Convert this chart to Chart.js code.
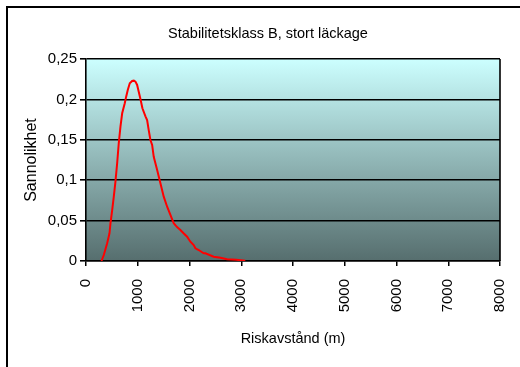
<!DOCTYPE html>
<html>
<head>
<meta charset="utf-8">
<script src="https://cdn.jsdelivr.net/npm/chart.js@4/dist/chart.umd.min.js"></script>
<style>
  html, body { margin: 0; padding: 0; background: #ffffff; }
  #wrap { width: 520px; height: 367px; position: relative; }
</style>
</head>
<body>
<div id="wrap"><canvas id="c" width="520" height="367"></canvas></div>
<script>
// Probability of the risk distance, stability class B, large leak
const chartTitle = 'Stabilitetsklass B, stort läckage';
const xTitle = 'Riskavstånd (m)';
const yTitle = 'Sannolikhet';

// Risk distance (m)
const distance = [299, 344, 409, 454, 473, 506, 537, 569, 602, 633, 666, 699, 749, 776, 807,
  846, 892, 925, 956, 988, 1019, 1052, 1090, 1149, 1181, 1212, 1245, 1278, 1309, 1375, 1438,
  1502, 1568, 1631, 1695, 1760, 1824, 1890, 1954, 2017, 2081, 2114, 2178, 2274, 2307, 2467,
  2600, 2726, 2900, 3079];
// Probability
const probability = [0, 0.0074, 0.0219, 0.0343, 0.0467, 0.0631, 0.0796, 0.0982, 0.121, 0.1457,
  0.1663, 0.1828, 0.1952, 0.2034, 0.2117, 0.22, 0.2228, 0.2232, 0.222, 0.2179, 0.2096, 0.2005,
  0.189, 0.179, 0.1745, 0.162, 0.1498, 0.1436, 0.129, 0.1127, 0.0962, 0.0796, 0.0672, 0.057,
  0.0467, 0.042, 0.0384, 0.034, 0.0301, 0.0239, 0.0198, 0.0157, 0.0136, 0.0095, 0.0095, 0.0053,
  0.004, 0.0021, 0.0015, 0.0004];

const xTickValues = [0, 1000, 2000, 3000, 4000, 5000, 6000, 7000, 8000];
const yTickValues = [0, 0.05, 0.1, 0.15, 0.2, 0.25];
const yTickLabels = ['0', '0,05', '0,1', '0,15', '0,2', '0,25'];

const FONT = "'Liberation Sans', Arial, sans-serif";

const points = distance.map((d, i) => ({ x: d, y: probability[i] }));

const framePlugin = {
  id: 'frame',
  beforeDraw(chart) {
    const { ctx, chartArea: a, width, height } = chart;
    ctx.save();
    // plot background gradient
    const g = ctx.createLinearGradient(0, a.top, 0, a.bottom);
    g.addColorStop(0, '#ccffff');
    g.addColorStop(1, '#566e6e');
    ctx.fillStyle = g;
    ctx.fillRect(a.left, a.top, a.right - a.left, a.bottom - a.top);
    // outer chart border
    ctx.strokeStyle = '#000000';
    ctx.lineWidth = 2;
    ctx.strokeRect(7, 7, width + 20, height + 20);
    // chart title
    ctx.fillStyle = '#000000';
    ctx.font = '14.5px ' + FONT;
    ctx.textAlign = 'center';
    ctx.textBaseline = 'middle';
    ctx.fillText(chartTitle, 268, 34);
    ctx.restore();
  },
  afterDraw(chart) {
    const { ctx, chartArea: a } = chart;
    ctx.save();
    ctx.strokeStyle = '#000000';
    ctx.lineWidth = 1.6;
    ctx.beginPath();
    ctx.moveTo(a.right, a.top);
    ctx.lineTo(a.right, a.bottom);
    ctx.stroke();
    ctx.restore();
  }
};

new Chart(document.getElementById('c'), {
  type: 'scatter',
  data: {
    datasets: [{
      data: points,
      showLine: true,
      borderColor: '#ff0000',
      borderWidth: 2,
      pointRadius: 0,
      tension: 0,
      fill: false
    }]
  },
  options: {
    responsive: false,
    animation: false,
    events: [],
    layout: { padding: { left: 0, right: 20, top: 59, bottom: 0 } },
    plugins: { legend: { display: false }, title: { display: false }, tooltip: { enabled: false } },
    scales: {
      x: {
        type: 'linear',
        min: 0,
        max: 8000,
        afterBuildTicks(scale) { scale.ticks = xTickValues.map(v => ({ value: v })); },
        afterFit(scale) {
          scale.height = 106;
          scale.paddingLeft = 0;
          scale.paddingRight = 0;
        },
        grid: { drawOnChartArea: false, drawTicks: true, tickLength: 5, color: '#000000', lineWidth: 1.5 },
        border: { display: true, color: '#000000', width: 1.6 },
        ticks: {
          color: '#000000',
          font: { family: FONT, size: 15 },
          minRotation: 90,
          maxRotation: 90,
          padding: 13,
          autoSkip: false,
          callback: v => String(v)
        },
        title: {
          display: true,
          text: xTitle,
          color: '#000000',
          font: { family: FONT, size: 14.5 },
          padding: { top: 0, bottom: 19 }
        }
      },
      y: {
        type: 'linear',
        min: 0,
        max: 0.25,
        afterBuildTicks(scale) { scale.ticks = yTickValues.map(v => ({ value: v })); },
        afterFit(scale) {
          scale.width = 86;
          scale.paddingTop = 0;
          scale.paddingBottom = 0;
        },
        grid: { drawOnChartArea: true, drawTicks: true, tickLength: 6, color: '#000000', lineWidth: 1.6 },
        border: { display: true, color: '#000000', width: 1.6 },
        ticks: {
          color: '#000000',
          font: { family: FONT, size: 15 },
          padding: 3,
          autoSkip: false,
          callback: v => yTickLabels[yTickValues.findIndex(t => Math.abs(t - v) < 1e-9)]
        },
        title: {
          display: true,
          text: yTitle,
          color: '#000000',
          font: { family: FONT, size: 16 },
          padding: { top: 22, bottom: 0 }
        }
      }
    }
  },
  plugins: [framePlugin]
});
</script>
</body>
</html>
